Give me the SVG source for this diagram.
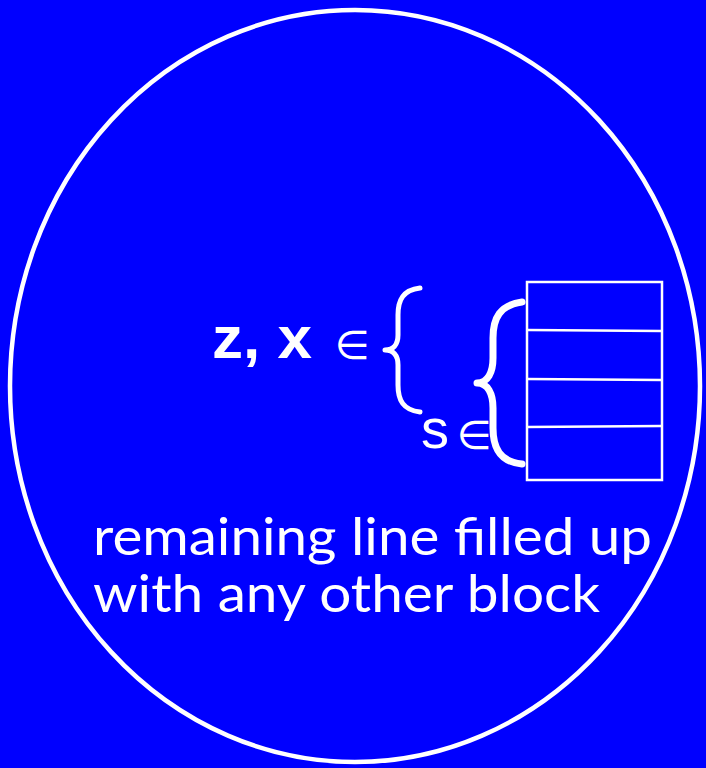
<svg xmlns="http://www.w3.org/2000/svg" width="706" height="768" viewBox="0 0 706 768">
<style>
.brace{fill:none;stroke:#fff;stroke-linecap:round;stroke-linejoin:round}
.comic{font-family:"Comic Sans MS","Lato","Noto Sans",sans-serif;font-size:52px;fill:#fff}
.math{font-family:"Liberation Sans",Arial,sans-serif;fill:#fff}
.sym{font-family:"DejaVu Sans","Liberation Serif",serif;fill:#fff}
.cell{stroke:#fff;stroke-width:2.5}
</style>
<rect x="0" y="0" width="706" height="768" fill="#0000ff"/>
<g id="circle">
<ellipse cx="355" cy="386" rx="345" ry="376" fill="none" stroke="#fff" stroke-width="4.5"/>
</g>
<g id="formula">
<text class="math" x="212" y="358" font-size="60" font-weight="bold" textLength="100" lengthAdjust="spacingAndGlyphs">z, x</text>
<text class="sym" x="335" y="359" font-size="40">∈</text>
<path class="brace" stroke-width="5" d="M420,288 C403,290 398,300 398,315 L398,335 C398,345 393,350 385,350 C393,350 398,355 398,365 L398,385 C398,400 403,410 420,412"/>
<text class="math" x="421" y="448" font-size="56">s</text>
<text class="sym" x="457" y="449" font-size="40">∈</text>
<path class="brace" stroke-width="7" d="M522,302 C500,305 493,318 493,338 L493,358 C493,372 488,383 477,383 C488,383 493,394 493,408 L493,428 C493,448 500,462 522,464"/>
</g>
<g id="block">
<rect x="527" y="282" width="135" height="198" fill="none" class="cell"/>
<line class="cell" x1="527" y1="330" x2="662" y2="331"/>
<line class="cell" x1="527" y1="379" x2="662" y2="380"/>
<line class="cell" x1="527" y1="427" x2="662" y2="426"/>
</g>
<g id="caption">
<text class="comic" x="93" y="555" textLength="559" lengthAdjust="spacingAndGlyphs">remaining line filled up</text>
<text class="comic" x="93" y="612" textLength="507" lengthAdjust="spacingAndGlyphs">with any other block</text>
</g>
</svg>
